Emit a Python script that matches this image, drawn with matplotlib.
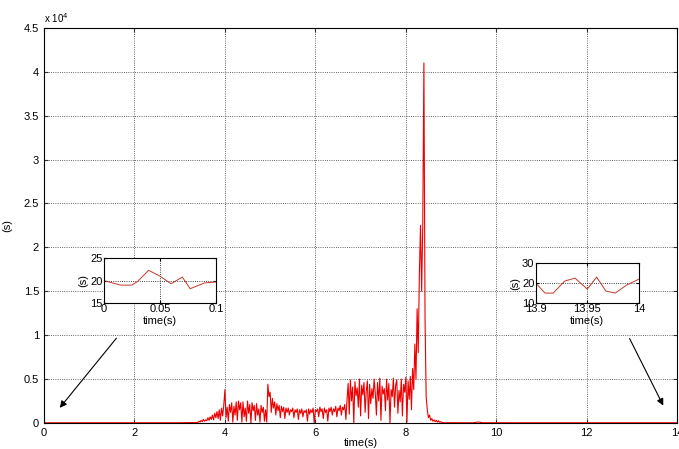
import numpy as np
import matplotlib.pyplot as plt

# quiet part before the burst (s)
t_pre = [0.0, 0.3, 0.6, 0.9, 1.2, 1.5, 1.8, 2.1, 2.4, 2.7, 3.0, 3.2, 3.375]
v_pre = [20, 19, 21, 20, 22, 19, 20, 21, 18, 20, 22, 30, 40]

# burst region, sampled every 0.025 s starting at 3.4 s
t_burst_start = 3.4
t_burst_step = 0.025
v_burst = [
    50, 200, 100, 300, 150, 400, 200, 350, 250, 600, 300, 700, 400, 900, 350, 1100, 600, 1300, 500, 1500,
    300, 1700, 800, 2000, 3800, 600, 1800, 200, 2100, 1200, 2300, 100, 1900, 900, 2400, 300, 2500, 1500, 2300, 100,
    2400, 700, 1700, 200, 2500, 1100, 2100, 0, 2300, 1400, 2000, 300, 2200, 900, 1600, 100, 2000, 1200, 1800, 200,
    1500, 100, 4400, 3000, 3500, 1200, 2800, 1700, 2400, 900, 2200, 1400, 2000, 600, 1900, 1300, 1800, 500, 1700, 1200,
    1700, 900, 1500, 1300, 1700, 600, 1500, 1200, 1600, 400, 1500, 1100, 1600, 700, 1400, 1200, 1500, 200, 1600, 1000,
    1500, 1200, 1700, 0, 1500, 1300, 1600, 700, 1800, 1300, 1600, 500, 1700, 1200, 1500, 200, 1700, 1300, 1800, 900,
    1600, 1300, 1900, 700, 1700, 1400, 2000, 900, 1800, 1500, 2100, 400, 2600, 4500, 1000, 4900, 2500, 4100, 0, 4700,
    3100, 4000, 1800, 5000, 800, 4300, 3200, 4600, 1200, 3600, 4800, 500, 4400, 2200, 3900, 2800, 5000, 3400, 900, 4600,
    2500, 5100, 300, 4200, 3300, 3900, 1400, 5000, 2600, 4500, 0, 3800, 3000, 5100, 1800, 4300, 4900, 1100, 3700, 2400,
    5000, 800, 4400, 3500, 5200, 100, 4800, 2700, 5300, 1500, 6200, 3800, 9000, 5000, 13000, 8000, 17000, 22500, 15000, 22500,
    41000, 12000, 3000, 1500, 600, 900, 300, 500, 200, 350, 150, 300, 100, 250, 80, 150, 40, 30, 20, 20,
]

# quiet part after the burst (s)
t_post = [8.9, 9.2, 9.5, 9.6, 9.7, 10.0, 10.5, 11.0, 11.5, 12.0, 12.5, 13.0, 13.5, 14.0]
v_post = [25, 20, 22, 110, 25, 20, 21, 19, 20, 22, 20, 19, 21, 22]

# zoomed insets
t_in1 = [0.0, 0.015, 0.025, 0.03, 0.04, 0.05, 0.06, 0.07, 0.077, 0.09, 0.1]
v_in1 = [20, 19, 19, 19.8, 22.3, 21, 19.3, 20.8, 18.2, 19.5, 19.7]
t_in2 = [13.9, 13.909, 13.917, 13.928, 13.938, 13.95, 13.959, 13.968, 13.977, 13.988, 14.0]
v_in2 = [20, 15, 15, 21, 22.5, 17, 23, 16, 15, 19, 22]

yticks = [0, 5000, 10000, 15000, 20000, 25000, 30000, 35000, 40000, 45000]
ylabels = ['0', '0.5', '1', '1.5', '2', '2.5', '3', '3.5', '4', '4.5']

plt.rcParams['font.family'] = ['Liberation Sans', 'DejaVu Sans']
plt.rcParams['font.size'] = 8

t_burst = t_burst_start + t_burst_step * np.arange(len(v_burst))
t = np.concatenate([t_pre, t_burst, t_post])
v = np.concatenate([v_pre, v_burst, v_post])

fig = plt.figure(figsize=(6.79, 4.49), dpi=100)
ax = fig.add_axes([0.0648, 0.058, 0.9325, 0.88])
ax.plot(t, v, color='#ee0000', lw=0.8)
ax.set_xlim(0, 14)
ax.set_ylim(0, 45000)
ax.set_xticks([0, 2, 4, 6, 8, 10, 12, 14])
ax.set_yticks(yticks)
ax.set_yticklabels(ylabels)
ax.grid(True, color='#333333', linestyle=':', linewidth=0.6)
ax.tick_params(direction='in', top=True, right=True, length=3, color='#333333')
ax.set_xlabel('time(s)', labelpad=0)
ax.set_ylabel('(s)', labelpad=8)
ax.text(0.0, 1.008, r'x 10$^4$', transform=ax.transAxes, fontsize=7, va='bottom')

ax.annotate('', xy=(0.31, 1480), xytext=(1.64, 9900),
            arrowprops=dict(arrowstyle='-|>', color='black', lw=0.8, mutation_scale=10))
ax.annotate('', xy=(13.72, 1700), xytext=(12.92, 9900),
            arrowprops=dict(arrowstyle='-|>', color='black', lw=0.8, mutation_scale=10))

ax1 = fig.add_axes([0.153, 0.325, 0.165, 0.100])
ax1.plot(t_in1, v_in1, color='#c0392b', lw=0.7)
ax1.set_xlim(0, 0.1)
ax1.set_ylim(15, 25)
ax1.set_xticks([0, 0.05, 0.1])
ax1.set_xticklabels(['0', '0.05', '0.1'])
ax1.set_yticks([15, 20, 25])
ax1.grid(True, color='black', linestyle=':', linewidth=0.6)
ax1.tick_params(direction='in', top=True, right=True, length=2, pad=1)
ax1.set_xlabel('time(s)', labelpad=1)
ax1.set_ylabel('(s)', labelpad=1)

ax2 = fig.add_axes([0.789, 0.325, 0.152, 0.089])
ax2.plot(t_in2, v_in2, color='#c0392b', lw=0.7)
ax2.set_xlim(13.9, 14)
ax2.set_ylim(10, 30)
ax2.set_xticks([13.9, 13.95, 14])
ax2.set_xticklabels(['13.9', '13.95', '14'])
ax2.set_yticks([10, 20, 30])
ax2.grid(True, color='black', linestyle=':', linewidth=0.6)
ax2.tick_params(direction='in', top=True, right=True, length=2, pad=1)
ax2.set_xlabel('time(s)', labelpad=1)
ax2.set_ylabel('(s)', labelpad=1)

fig.savefig('out.png', dpi=100)
